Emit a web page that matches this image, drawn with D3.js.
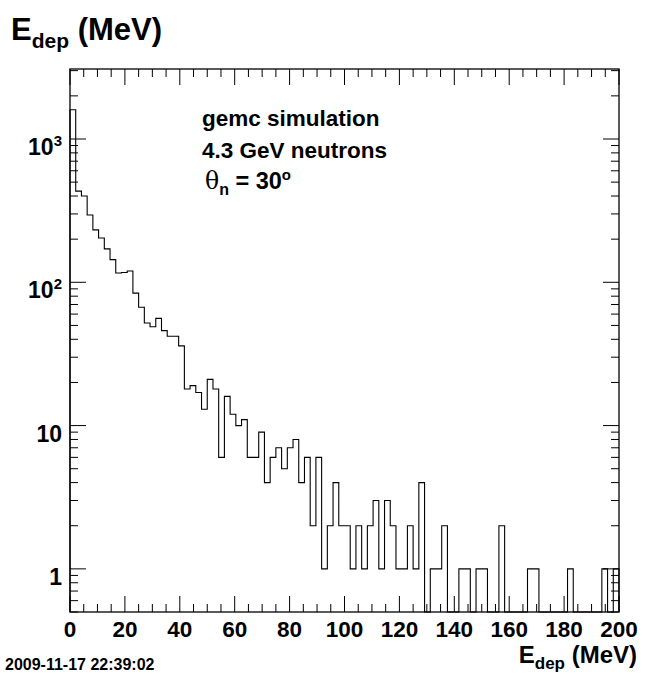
<!DOCTYPE html>
<html>
<head>
<meta charset="utf-8">
<script src="https://cdn.jsdelivr.net/npm/d3@7"></script>
<style>
  html, body { margin: 0; padding: 0; background: #fff; }
  svg { display: block; }
  text { font-family: "Liberation Sans", Arial, Helvetica, sans-serif; font-weight: bold; fill: #000; }
</style>
</head>
<body>
<script>
// ---------------- data ----------------
const xMin = 0, xMax = 200;
const binWidth = 250 / 120;          // histogram bins (0-250 MeV in 120 bins), shown 0-200
const counts = [
  1600, 433, 400, 295, 232, 204, 171, 144, 116, 117,
  120, 84, 67, 52, 49, 56, 46, 42, 42, 36,
  18, 19, 17, 13, 21, 18, 6, 16, 12, 10,
  11, 6, 6, 9, 4, 6, 7, 5, 7, 8,
  4, 6, 2, 6, 1, 2, 4, 2, 2, 1,
  2, 1, 2, 3, 1, 3, 2, 1, 1, 2,
  1, 4, 0, 1, 1, 2, 0, 0, 1, 1,
  0, 1, 1, 0, 0, 2, 0, 0, 0, 0,
  1, 1, 0, 0, 0, 0, 0, 1, 0, 0,
  0, 0, 0, 1, 0, 1
];
const yMin = 0.5, yMax = 3080;
const xTickValues = [0, 20, 40, 60, 80, 100, 120, 140, 160, 180, 200];
const xTickLabels = ["0", "20", "40", "60", "80", "100", "120", "140", "160", "180", "200"];
const yTickValues = [1, 10, 100, 1000];
const yTickBase = ["1", "10", "10", "10"];
const yTickExp = ["", "", "2", "3"];
const annotationLines = ["gemc simulation", "4.3 GeV neutrons"];
const dateStamp = "2009-11-17 22:39:02";

// ---------------- layout ----------------
const W = 661, H = 674;
const frame = { left: 70, right: 619, top: 69, bottom: 612 };

const svg = d3.select("body").append("svg").attr("width", W).attr("height", H);

const x = d3.scaleLinear().domain([xMin, xMax]).range([frame.left, frame.right]);
const y = d3.scaleLog().domain([yMin, yMax]).range([frame.bottom, frame.top]);

// ---------------- histogram ----------------
const pts = counts.map((c, i) => ({ e: xMin + i * binWidth, c }));
pts.push({ e: Math.min(xMax, xMin + counts.length * binWidth), c: 0 });
const yOf = c => c > 0 ? y(c) : frame.bottom;
const line = d3.line().x(d => x(d.e)).y(d => yOf(d.c)).curve(d3.curveStepAfter);
svg.append("path")
  .attr("d", "M" + x(xMin) + "," + frame.bottom + line(pts).replace(/^M/, "L"))
  .attr("fill", "none").attr("stroke", "#000").attr("stroke-width", 1.1);

// ---------------- axes (ticks on all sides) ----------------
const tickMajor = 16, tickMinor = 8;
const gAx = svg.append("g").attr("stroke", "#000").attr("stroke-width", 1);

d3.range(xMin, xMax + 0.001, 5).forEach(v => {
  const L = (v % 20 === 0) ? tickMajor : tickMinor;
  const px = x(v);
  gAx.append("line").attr("x1", px).attr("x2", px).attr("y1", frame.bottom).attr("y2", frame.bottom - L);
  gAx.append("line").attr("x1", px).attr("x2", px).attr("y1", frame.top).attr("y2", frame.top + L);
});

const yTickAll = [];
[0.1, 1, 10, 100, 1000].forEach(dec => {
  for (let k = 1; k <= 9; k++) {
    const v = dec * k;
    if (v >= yMin - 1e-9 && v <= yMax) yTickAll.push({ v, maj: k === 1 });
  }
});
yTickAll.forEach(d => {
  const L = d.maj ? tickMajor : tickMinor;
  const py = y(d.v);
  gAx.append("line").attr("x1", frame.left).attr("x2", frame.left + L).attr("y1", py).attr("y2", py);
  gAx.append("line").attr("x1", frame.right).attr("x2", frame.right - L).attr("y1", py).attr("y2", py);
});

svg.append("rect")
  .attr("x", frame.left).attr("y", frame.top)
  .attr("width", frame.right - frame.left).attr("height", frame.bottom - frame.top)
  .attr("fill", "none").attr("stroke", "#000").attr("stroke-width", 1.3);

// x tick labels
svg.append("g").selectAll("text").data(xTickValues).join("text")
  .attr("x", d => x(d)).attr("y", 637)
  .attr("text-anchor", "middle").attr("font-size", 22.5)
  .text((d, i) => xTickLabels[i]);

// y tick labels
const yl = svg.append("g").selectAll("text").data(yTickValues).join("text")
  .attr("x", 62).attr("y", d => y(d) + 16)
  .attr("text-anchor", "end").attr("font-size", 23);
yl.append("tspan").text((d, i) => yTickBase[i]);
yl.append("tspan").attr("dy", -9).attr("font-size", 15).text((d, i) => yTickExp[i]);

// title
const title = svg.append("text").attr("x", 11).attr("y", 40).attr("font-size", 31);
title.append("tspan").text("E");
title.append("tspan").attr("dy", 8).attr("font-size", 21).text("dep");
title.append("tspan").attr("dy", -8).text(" (MeV)");

// x axis title
const xt = svg.append("text").attr("x", 637).attr("y", 663).attr("text-anchor", "end").attr("font-size", 24);
xt.append("tspan").text("E");
xt.append("tspan").attr("dy", 6).attr("font-size", 17).text("dep");
xt.append("tspan").attr("dy", -6).text(" (MeV)");

// annotation
svg.append("g").selectAll("text").data(annotationLines).join("text")
  .attr("x", 202).attr("y", (d, i) => 126 + i * 32)
  .attr("font-size", 22.5).text(d => d);
const th = svg.append("text").attr("x", 205).attr("y", 189).attr("font-size", 23.5);
th.append("tspan").attr("font-weight", "normal").attr("font-family", "'DejaVu Serif', 'Liberation Serif', serif").text("θ");
th.append("tspan").attr("dy", 6).attr("font-size", 16).text("n");
th.append("tspan").attr("dy", -6).text(" = 30");
th.append("tspan").attr("dy", -9).attr("font-size", 15).text("o");

// date stamp
svg.append("text").attr("x", 5).attr("y", 670).attr("font-size", 16).text(dateStamp);
</script>
</body>
</html>
